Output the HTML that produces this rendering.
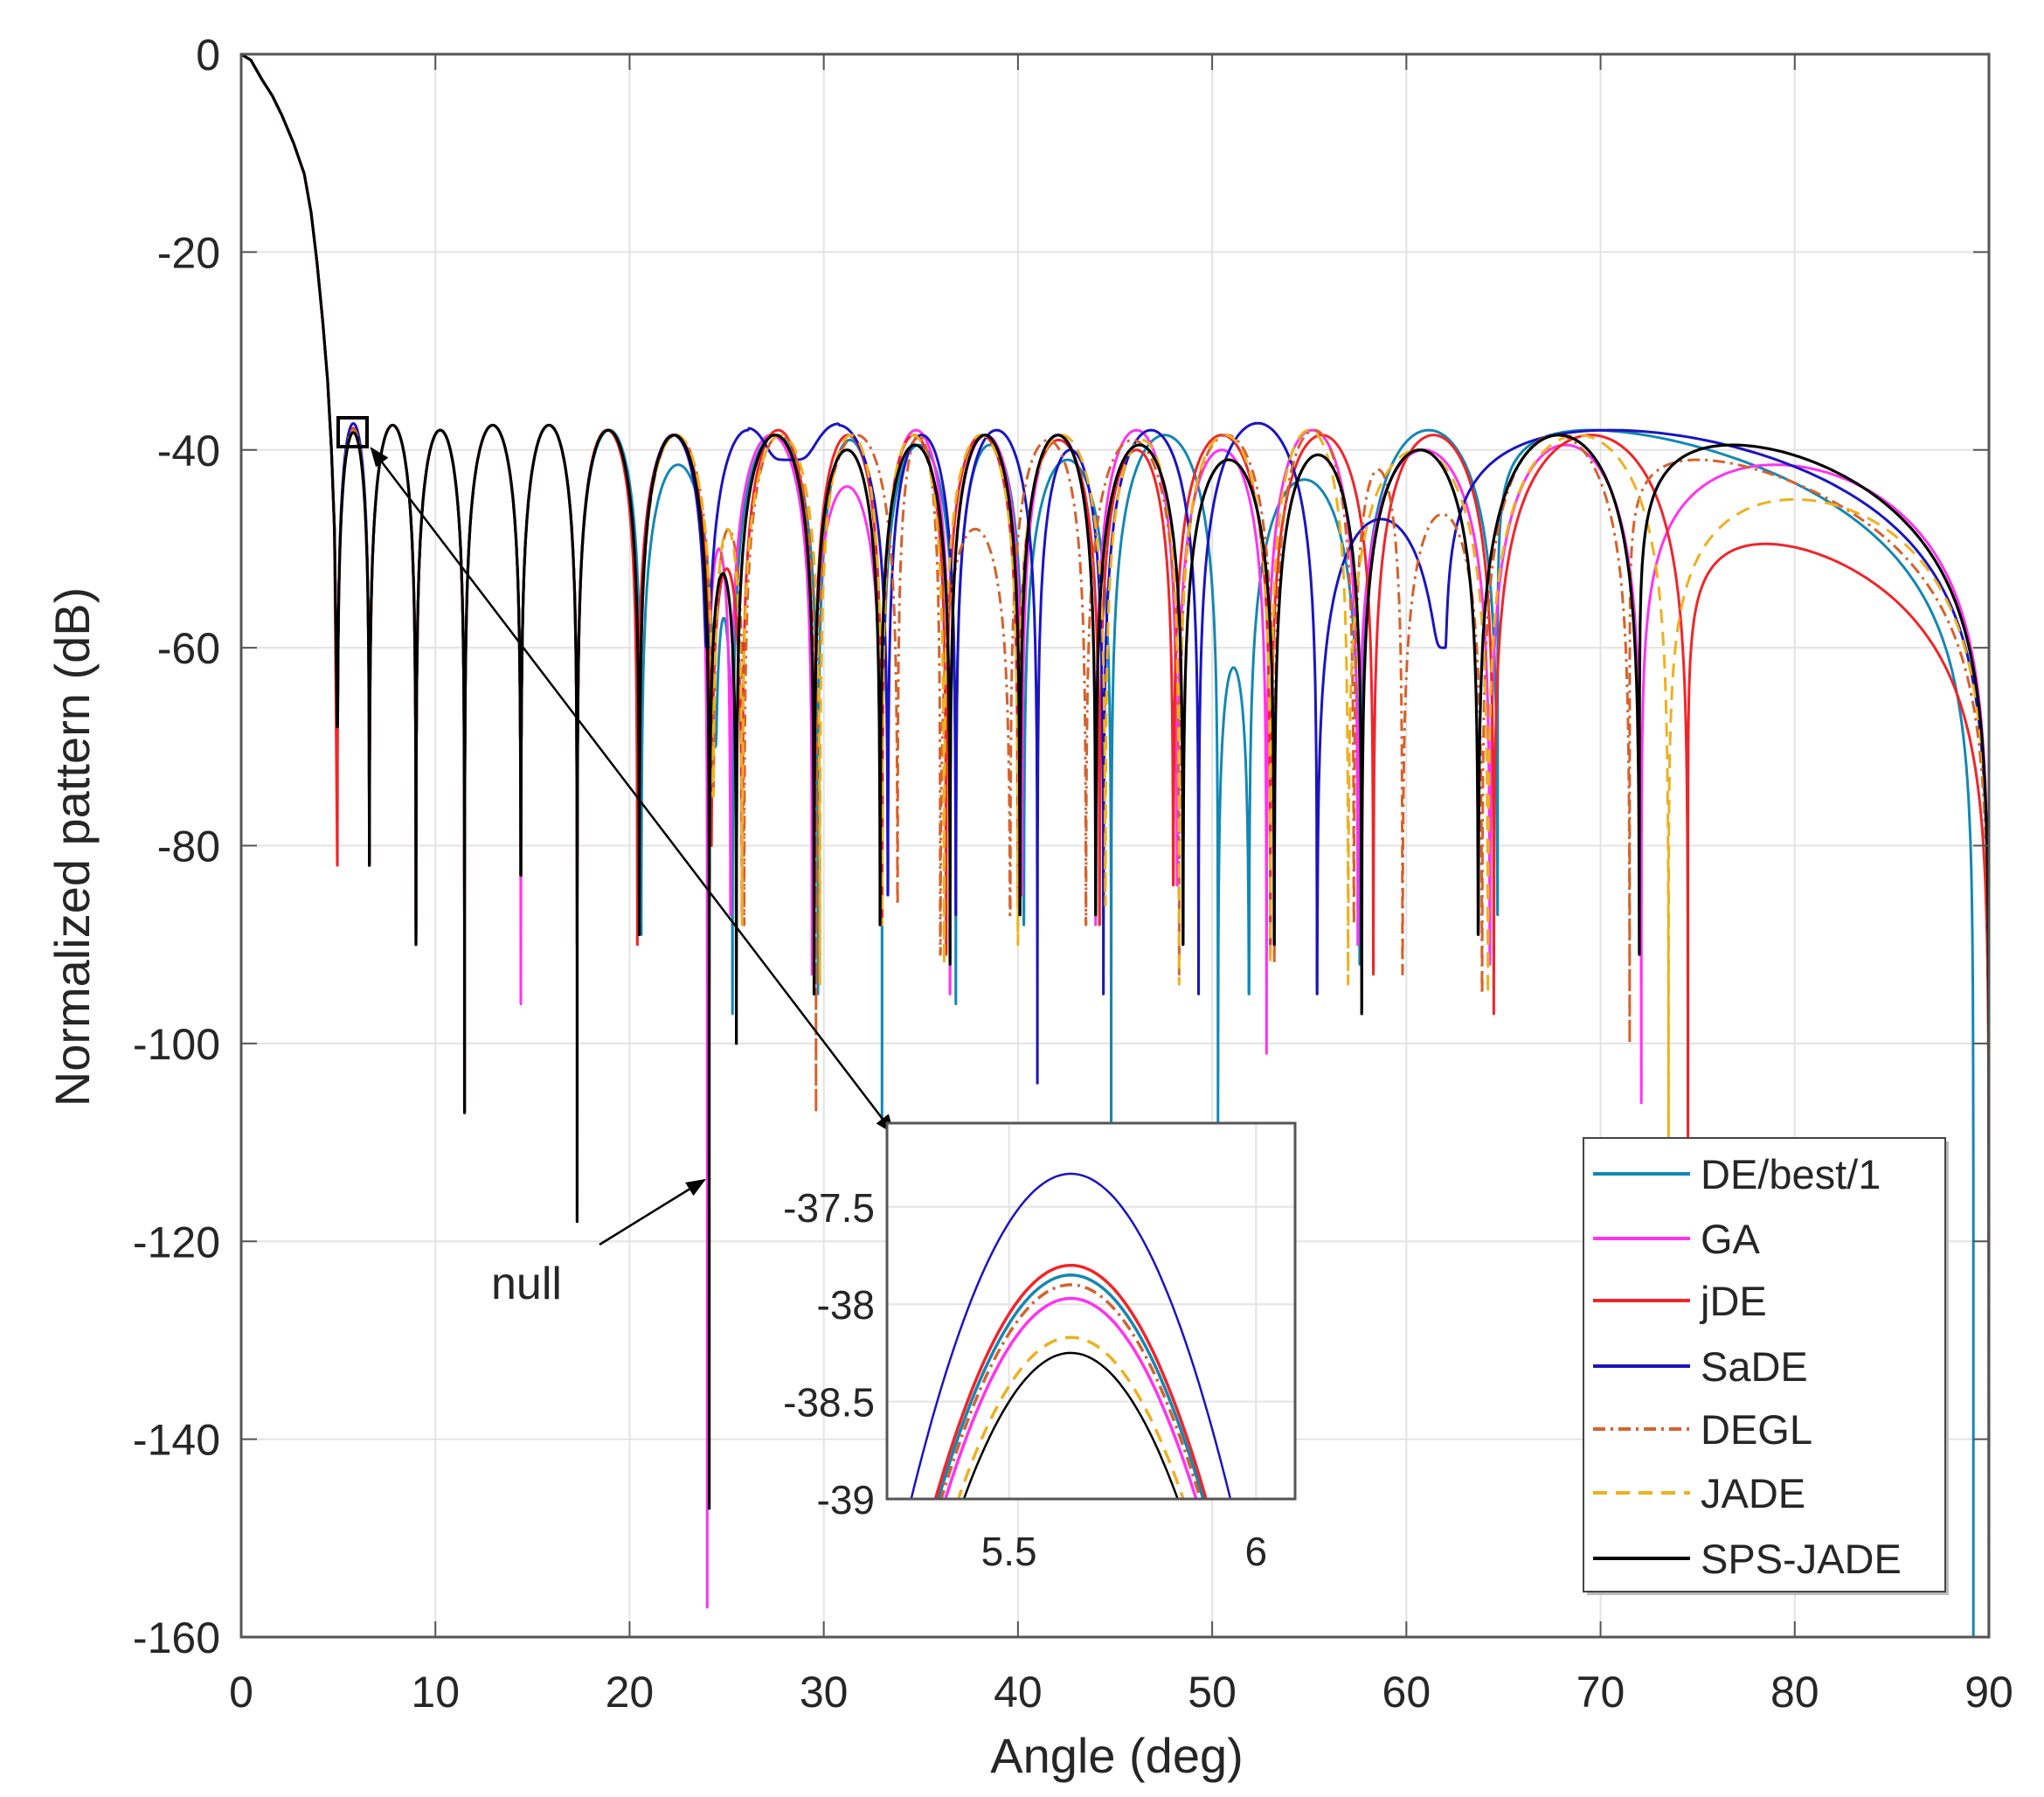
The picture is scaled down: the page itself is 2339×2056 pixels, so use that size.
<!DOCTYPE html>
<html><head><meta charset="utf-8"><style>
html,body{margin:0;padding:0;background:#fff;overflow:hidden;width:2339px;height:2056px}
svg{display:block;position:absolute;left:0;top:0}
text{font-family:"Liberation Sans",Arial,sans-serif;fill:#262626}
</style></head><body>
<svg id="chart" width="2339" height="2056" viewBox="0 0 2339 2056" xmlns="http://www.w3.org/2000/svg" overflow="hidden">
<defs>
<clipPath id="plotClip"><rect x="276" y="62" width="2000" height="1811"/></clipPath>
<clipPath id="insetClip"><rect x="1015" y="1285" width="467" height="430"/></clipPath>
<marker id="arrowHead" viewBox="0 0 10 10" refX="9" refY="5" markerWidth="9" markerHeight="9" orient="auto-start-reverse"><path d="M0,1 L10,5 L0,9 z" fill="#000"/></marker>
</defs>
<rect width="2339" height="2056" fill="#fff"/>
<g id="grid"></g>
<g id="series" clip-path="url(#plotClip)"></g>
<g id="axes"></g>
<g id="annot">
<rect x="387" y="478" width="33" height="33" fill="none" stroke="#000" stroke-width="4"/>
<line x1="425" y1="513" x2="1022" y2="1296" stroke="#000" stroke-width="2.5" marker-start="url(#arrowHead)" marker-end="url(#arrowHead)"/>
<line x1="686" y1="1424" x2="806" y2="1350" stroke="#000" stroke-width="2.5" marker-end="url(#arrowHead)"/>
<text x="562" y="1486" font-size="52">null</text>
</g>
<g id="inset"></g>
<g id="legend"></g>
</svg>
<script>
// ---------- data ----------
const xTicks = [0,10,20,30,40,50,60,70,80,90];
const yTicks = [0,-20,-40,-60,-80,-100,-120,-140,-160];
const seriesNames = ["DE/best/1","GA","jDE","SaDE","DEGL","JADE","SPS-JADE"];
const mainAngles = [0,0.5,1.08,1.6,2.1,2.7,3.25,3.6,3.9,4.2,4.45,4.65,4.8];
const mainDb = [0,-0.6,-2.6,-4.2,-6.2,-9,-12.1,-16,-21,-27,-33,-40,-48];

const deNulls  = [4.95,6.6,9.0,11.5,14.4,17.3,20.6,24.4,25.3,29.7,33.0,36.8,40.3,44.8,50.3,51.9,57.6,64.7,89.2];
const deDepths = [-68,-80,-90,-107,-83,-90,-89,-70,-97,-95,-108,-96,-88,-108,-110,-95,-92,-87,-160];
const dePeaks  = [-37.85,-37.5,-38,-37.5,-37.5,-38,-41.5,-57,-38.5,-39,-39.5,-39.5,-41,-38.5,-62,-43,-38,-38];
const deLastPeak = 69.5;

const gaNulls  = [4.95,6.6,9.0,11.5,14.4,17.3,20.5,24.0,25.2,29.4,33.0,36.5,40.2,44.0,48.2,52.8,57.5,64.3,72.1,90];
const gaDepths = [-68,-80,-90,-107,-96,-90,-89,-157,-87,-93,-83,-95,-85,-88,-84,-101,-90,-92,-106,-160];
const gaPeaks  = [-37.97,-37.5,-38,-37.5,-37.5,-38,-38.5,-50,-38.5,-43.7,-38,-38.5,-38.5,-38,-40,-38,-40,-39.5,-41.5];
const gaLastPeak = 79;

const jdeNulls  = [4.95,6.6,9.0,11.5,14.4,17.3,20.4,24.2,25.8,29.5,33.0,36.3,40.0,44.2,48.0,53.0,58.3,64.5,74.5,90];
const jdeDepths = [-82,-82,-90,-107,-83,-90,-90,-80,-87,-95,-88,-91,-86,-88,-84,-91,-93,-97,-112,-160];
const jdePeaks  = [-37.8,-37.5,-38,-37.5,-37.5,-38,-38.5,-52,-38,-38.5,-38.5,-38.5,-39,-40,-38.5,-38.5,-38.5,-38.5,-49.5];
const jdeLastPeak = 78.5;

const sadeNulls  = [4.95,6.6,9.0,11.5,14.4,17.3,20.5,24.0,28.2,33.3,36.8,41.0,44.4,49.3,55.4,62.0,90];
const sadeDepths = [-68,-80,-90,-107,-83,-90,-89,-60,-41,-85,-87,-104,-95,-95,-95,-60,-160];
const sadePeaks  = [-37.33,-37.5,-38,-37.5,-37.5,-38,-38.5,-38,-37.5,-38.5,-38,-40,-38,-37.3,-47,-38];
const sadeLastPeak = 70.5;

const deglNulls  = [4.95,6.6,9.0,11.5,14.4,17.3,20.5,24.3,25.9,29.6,33.8,36.0,39.6,43.5,48.3,53.2,57.3,59.8,63.9,71.5,90];
const deglDepths = [-68,-80,-90,-107,-83,-90,-89,-75,-88,-107,-86,-91,-87,-88,-93,-92,-88,-93,-95,-100,-160];
const deglPeaks  = [-37.9,-37.5,-38,-37.5,-37.5,-38,-38.5,-48,-38.5,-38.5,-38.5,-48,-39,-39,-38.5,-38,-42,-46.5,-38.5,-41];
const deglLastPeak = 75;

const jadeNulls  = [4.95,6.6,9.0,11.5,14.4,17.3,20.5,24.3,25.8,29.8,33.0,36.2,40.0,44.5,48.3,53.0,57.0,64.2,73.5,90];
const jadeDepths = [-68,-80,-90,-107,-83,-90,-89,-75,-88,-94,-88,-92,-90,-86,-94,-92,-94,-95,-125,-160];
const jadePeaks  = [-38.17,-37.5,-38,-37.5,-37.5,-38,-38.5,-48,-38.5,-38.5,-38.5,-38.5,-38.5,-39,-38.5,-38,-40,-38.5,-45];
const jadeLastPeak = 80;

const spsNulls  = [4.95,6.6,9.0,11.5,14.4,17.3,20.5,24.1,25.5,29.5,32.9,36.5,40.1,44.0,48.5,53.2,57.7,63.7,72.0,90];
const spsDepths = [-68,-82,-90,-107,-83,-118,-89,-147,-100,-95,-88,-92,-87,-87,-90,-90,-97,-89,-91,-160];
const spsPeaks  = [-38.25,-37.5,-38,-37.5,-37.5,-38,-38.5,-52.5,-38.5,-40,-39.5,-38.5,-38.5,-39.5,-41,-40.5,-40,-38.5,-39.5];
const spsLastPeak = 76.8;

const insetPeaks = [-37.85,-37.97,-37.8,-37.33,-37.9,-38.17,-38.25];
const insetPeakAngle = 5.625;
const insetXTicks = [5.5,6];
const insetYTicks = [-37.5,-38,-38.5,-39];

// ---------- layout ----------
const NS = "http://www.w3.org/2000/svg";
const X0=276,X1=2276,Y0=62,Y1=1873;
const xS = a => X0 + (a/90)*(X1-X0);
const yS = v => Y0 + (-v/160)*(Y1-Y0);
const IX0=1015,IX1=1482,IY0=1285,IY1=1715, IXmin=5.253,IXmax=6.079,IYmin=-39,IYmax=-37.07;
const ixS = a => IX0 + (a-IXmin)/(IXmax-IXmin)*(IX1-IX0);
const iyS = v => IY1 - (v-IYmin)/(IYmax-IYmin)*(IY1-IY0);
const colors = ["#1487b3","#ff33ee","#f0252a","#1b14c0","#d4622e","#edb120","#000000"];
const dashes = ["","","","","14 6 3 6","16 10","" ];
const widths = [3,3,3,3,3,3,3.2];
function el(tag, attrs, parent){const e=document.createElementNS(NS,tag);for(const k in attrs)e.setAttribute(k,attrs[k]);parent.appendChild(e);return e;}

// grid
const grid=document.getElementById('grid');
xTicks.forEach(t=>{const l=el('line',{x1:xS(t),x2:xS(t),y1:Y0,y2:Y1,stroke:'#e3e3e3','stroke-width':2},grid);

});
yTicks.forEach(t=>{const l=el('line',{x1:X0,x2:X1,y1:yS(t),y2:yS(t),stroke:'#e3e3e3','stroke-width':2},grid);

});

// series
function smoothMax(v,lim){
  if(lim<-70) return Math.max(v,lim);
  const k=1.5, m=Math.max(v,lim);
  return m + k*Math.log(Math.exp((v-m)/k)+Math.exp((lim-m)/k));
}
function buildPath(nulls,depths,peaks,lastPeak){
  const pts=[];
  for(let i=0;i<mainAngles.length;i++) pts.push([mainAngles[i],mainDb[i]]);
  pts.push([nulls[0],depths[0]]);
  for(let i=0;i<nulls.length-1;i++){
    const a=nulls[i],b=nulls[i+1],pk=peaks[i];
    let g=1;
    if(i===nulls.length-2){const f=(lastPeak-a)/(b-a);g=Math.log(0.5)/Math.log(f);}
    const N=140;
    for(let s=0;s<=N;s++){
      const t=(1-Math.cos(Math.PI*s/N))/2;
      const u=Math.pow(t,g);
      let v=pk+20*Math.log10(Math.max(Math.sin(Math.PI*u),1e-9));
      const lim=u<0.5?depths[i]:depths[i+1];
      v=smoothMax(v,lim);
      pts.push([a+(b-a)*t,v]);
    }
  }
  return pts.map((p,k)=>(k?'L':'M')+xS(p[0]).toFixed(1)+','+yS(p[1]).toFixed(1)).join('');
}
const sg=document.getElementById('series');
const allData=[[deNulls,deDepths,dePeaks,deLastPeak],[gaNulls,gaDepths,gaPeaks,gaLastPeak],[jdeNulls,jdeDepths,jdePeaks,jdeLastPeak],[sadeNulls,sadeDepths,sadePeaks,sadeLastPeak],[deglNulls,deglDepths,deglPeaks,deglLastPeak],[jadeNulls,jadeDepths,jadePeaks,jadeLastPeak],[spsNulls,spsDepths,spsPeaks,spsLastPeak]];
allData.forEach((d,i)=>{
  const p=el('path',{d:buildPath(d[0],d[1],d[2],d[3]),fill:'none',stroke:colors[i],'stroke-width':widths[i],'stroke-dasharray':dashes[i],'stroke-linejoin':'round'},sg);
  
  
});

// axes
const ax=document.getElementById('axes');
el('rect',{x:X0,y:Y0,width:X1-X0,height:Y1-Y0,fill:'none',stroke:'#555','stroke-width':3},ax);
xTicks.forEach(t=>{
  el('line',{x1:xS(t),x2:xS(t),y1:Y1,y2:Y1-18,stroke:'#555','stroke-width':2},ax);
  el('line',{x1:xS(t),x2:xS(t),y1:Y0,y2:Y0+18,stroke:'#555','stroke-width':2},ax);
  const tx=el('text',{x:xS(t),y:Y1+80,'font-size':50,'text-anchor':'middle'},ax);tx.textContent=t;
  
  
});
yTicks.forEach(t=>{
  el('line',{x1:X0,x2:X0+18,y1:yS(t),y2:yS(t),stroke:'#555','stroke-width':2},ax);
  el('line',{x1:X1,x2:X1-18,y1:yS(t),y2:yS(t),stroke:'#555','stroke-width':2},ax);
  const tx=el('text',{x:252,y:yS(t)+18,'font-size':50,'text-anchor':'end'},ax);tx.textContent=t;
  
  
});
const xt=el('text',{x:1278,y:2028,'font-size':56,'text-anchor':'middle'},ax);xt.textContent='Angle (deg)';


const yt=el('text',{x:0,y:0,'font-size':56,'text-anchor':'middle',transform:'translate(102,969) rotate(-90)'},ax);yt.textContent='Normalized pattern (dB)';



// inset
const ins=document.getElementById('inset');
el('rect',{x:IX0,y:IY0,width:IX1-IX0,height:IY1-IY0,fill:'#fff',stroke:'#555','stroke-width':3},ins);
insetYTicks.forEach(t=>{
  el('line',{x1:IX0,x2:IX1,y1:iyS(t),y2:iyS(t),stroke:'#e3e3e3','stroke-width':2},ins);
  const tx=el('text',{x:IX0-14,y:iyS(t)+17,'font-size':46,'text-anchor':'end'},ins);tx.textContent=t;
  
  
});
insetXTicks.forEach(t=>{
  el('line',{x1:ixS(t),x2:ixS(t),y1:IY0,y2:IY1,stroke:'#e3e3e3','stroke-width':2},ins);
  const tx=el('text',{x:ixS(t),y:IY1+76,'font-size':46,'text-anchor':'middle'},ins);tx.textContent=t;
  
  
});
const ic=el('g',{'clip-path':'url(#insetClip)'},ins);
insetPeaks.forEach((pk,i)=>{
  let d='';
  for(let s=0;s<=100;s++){const a=5.2+0.9*s/100;const v=pk-16*(a-insetPeakAngle)*(a-insetPeakAngle);d+=(s?'L':'M')+ixS(a).toFixed(1)+','+iyS(v).toFixed(1);}
  const p=el('path',{d:d,fill:'none',stroke:colors[i],'stroke-width':i===3||i===6?2.5:3.5,'stroke-dasharray':dashes[i]},ic);
  
  
});
el('rect',{x:IX0,y:IY0,width:IX1-IX0,height:IY1-IY0,fill:'none',stroke:'#555','stroke-width':3},ins);

// legend
const lg=document.getElementById('legend');
el('rect',{x:1816,y:1306,width:414,height:519,fill:'#bbb'},lg);
el('rect',{x:1812,y:1302,width:414,height:519,fill:'#fff',stroke:'#444','stroke-width':2},lg);
const legY=[1343,1417,1488,1563,1635,1708,1783];
seriesNames.forEach((n,i)=>{
  const g=el('g',{},lg);
  
  
  el('line',{x1:1823,x2:1934,y1:legY[i],y2:legY[i],stroke:colors[i],'stroke-width':4,'stroke-dasharray':dashes[i]},g);
  const tx=el('text',{x:1946,y:legY[i]+17,'font-size':47},g);tx.textContent=n;
});
</script>
</body></html>
